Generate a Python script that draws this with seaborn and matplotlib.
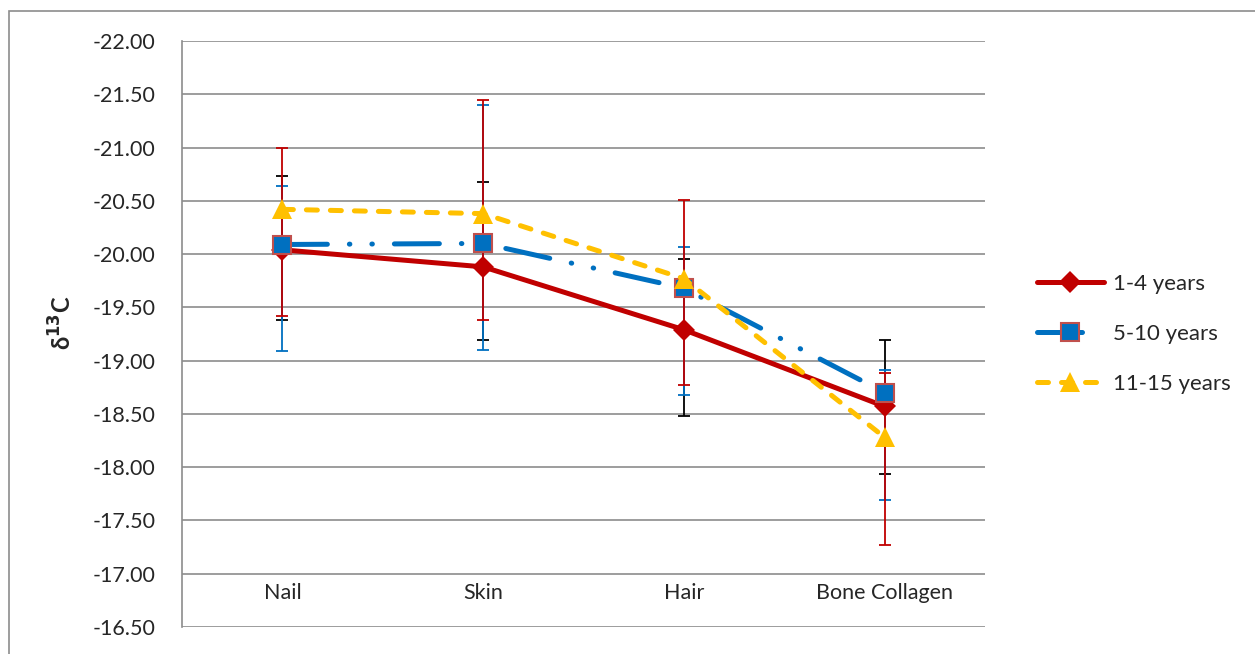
import numpy as np
import pandas as pd
import matplotlib
matplotlib.use("Agg")
import matplotlib.pyplot as plt
import seaborn as sns
from matplotlib.patches import Rectangle

# tissues and mean delta 13C per age group
tissues = ["Nail", "Skin", "Hair", "Bone Collagen"]
ages = ["1-4 years", "5-10 years", "11-15 years"]
mean_1_4 = [-20.04, -19.88, -19.29, -18.57]
mean_5_10 = [-20.09, -20.10, -19.68, -18.70]
mean_11_15 = [-20.42, -20.38, -19.77, -18.28]

# error bar ends (low = more negative, high = less negative)
red_lo = [-21.00, -21.45, -20.51, -18.88]
red_hi = [-19.42, -19.38, -18.77, -17.27]
blue_lo = [-20.64, -21.40, -20.07, -18.91]
blue_hi = [-19.09, -19.10, -18.68, -17.69]
black_lo = [-20.73, -20.68, -19.95, -19.19]
black_hi = [-19.38, -19.19, -18.48, -17.94]

yticks = np.arange(-22.0, -16.49, 0.5)

sns.set_style("white")
plt.rcParams['font.family'] = ['Lato', 'DejaVu Sans']

df = pd.DataFrame({
    "tissue": tissues * 3,
    "d13C": mean_1_4 + mean_5_10 + mean_11_15,
    "age": [a for a in ages for _ in tissues],
})

red = "#C00000"
blue = "#0070C0"
yellow = "#FFC000"

fig = plt.figure(figsize=(12.55, 6.54), dpi=100)
ax = fig.add_axes([182 / 1255, 1 - 627 / 654, (985 - 182) / 1255, (627 - 41) / 654])

sns.lineplot(data=df, x="tissue", y="d13C", hue="age", style="age",
             palette={ages[0]: red, ages[1]: blue, ages[2]: yellow},
             markers={ages[0]: "D", ages[1]: "s", ages[2]: "^"},
             dashes={ages[0]: "", ages[1]: (9, 4.4, 0.1, 4.4, 0.1, 4.4), ages[2]: (2.2, 2.6)},
             linewidth=3.6, sort=False, legend=False, ax=ax, zorder=5)

lines = ax.lines[:3]
msizes = [11, 12.5, 14]
for ln, ms in zip(lines, msizes):
    ln.set_markersize(ms)
    ln.set_dash_capstyle("round")
    ln.set_solid_capstyle("round")
    ln.set_markeredgewidth(0)
lines[1].set_markeredgecolor("#C0504D")
lines[1].set_markeredgewidth(1.5)

# error bars: black, blue, then red on top
xs = np.arange(len(tissues))
for lo, hi, c, z in [(black_lo, black_hi, "black", 2), (blue_lo, blue_hi, blue, 3), (red_lo, red_hi, red, 4)]:
    lo = np.array(lo)
    hi = np.array(hi)
    ax.errorbar(xs, (lo + hi) / 2, yerr=(hi - lo) / 2, fmt="none", ecolor=c,
                elinewidth=1.3, capsize=4.5, capthick=1.3, zorder=z)

ax.set_xlim(-0.5, 3.5)
ax.set_ylim(-16.5, -22.0)
ax.set_yticks(yticks)
ax.set_yticklabels([f"{v:.2f}" for v in yticks])
ax.set_xticks(xs)
ax.set_xticklabels(tissues)
ax.grid(axis="y", color="#8C8C8C", linewidth=1.2)
ax.set_axisbelow(True)
for s in ["top", "right"]:
    ax.spines[s].set_visible(False)
ax.spines["left"].set_color("#8C8C8C")
ax.spines["left"].set_linewidth(1.2)
ax.spines["bottom"].set_position(("data", -17.0))
ax.spines["bottom"].set_visible(False)
ax.tick_params(axis="y", length=0, pad=19, labelsize=15.5)
ax.tick_params(axis="x", length=0, pad=7, labelsize=15.5)
ax.set_xlabel("")
ax.set_ylabel("")

fig.text(62 / 1255, 1 - 323 / 654, r"δ$^{\mathbf{13}}$C", rotation=90, fontsize=17, fontweight="bold",
         ha="center", va="center")

ax.legend(handles=lines, labels=ages, loc="center left", frameon=False,
          bbox_to_anchor=(1026 / 1255, 1 - 334 / 654), bbox_transform=fig.transFigure,
          fontsize=16, handlelength=3.0, handletextpad=0.4, labelspacing=1.35, borderpad=0)

fig.patches.append(Rectangle((9 / 1255, -0.05), 1.2, 1.05 - 11 / 654, transform=fig.transFigure,
                             fill=False, edgecolor="#8C8C8C", linewidth=1.2))

fig.savefig("out.png", dpi=100)
